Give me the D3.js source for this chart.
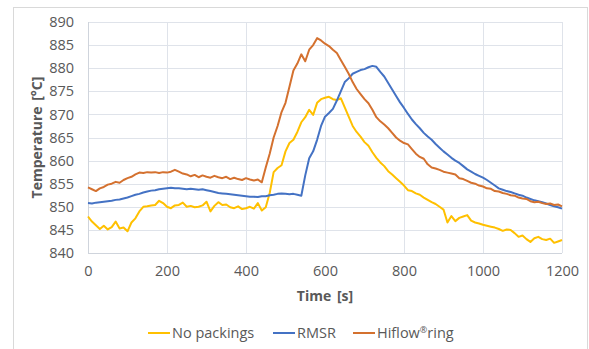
<!DOCTYPE html>
<html>
<head>
<meta charset="utf-8">
<script src="https://cdnjs.cloudflare.com/ajax/libs/d3/7.8.5/d3.min.js"></script>
<style>
  body { margin: 0; background: #fff; }
  text { font-family: "Open Sans", "Noto Sans", sans-serif; fill: #595959; }
</style>
</head>
<body>
<div id="chart"></div>
<script>
const width = 589;
const height = 349;

// time axis, 10 s steps from 0 to 1200
const times = d3.range(0, 1201, 10);

const noPackings = [
  847.9, 846.8, 846.0, 845.2, 845.9, 845.1, 845.6, 846.8, 845.3, 845.5,
  844.7, 846.6, 847.5, 849.0, 850.0, 850.1, 850.3, 850.4, 851.3, 850.8,
  850.0, 849.7, 850.3, 850.4, 850.9, 850.0, 850.2, 849.9, 850.0, 850.3,
  851.1, 849.0, 850.2, 851.0, 850.4, 850.5, 849.9, 849.7, 850.1, 849.5,
  849.7, 850.0, 849.6, 850.8, 849.2, 849.9, 853.0, 857.5, 858.4, 859.0,
  862.0, 863.8, 864.5, 866.2, 868.3, 869.4, 871.0, 869.9, 872.5, 873.3,
  873.6, 873.8, 873.3, 873.1, 873.5, 871.5, 869.5, 867.5, 866.2, 865.2,
  864.0, 863.2, 861.8, 860.6, 859.6, 858.8, 857.7, 857.0, 856.2, 855.4,
  854.6, 853.6, 853.4, 852.9, 852.6, 852.0, 851.5, 851.0, 850.6, 850.0,
  849.4, 846.6, 848.0, 846.9, 847.6, 847.9, 848.2, 847.0, 846.6, 846.4,
  846.1, 845.9, 845.7, 845.5, 845.2, 844.8, 845.1, 845.0, 844.3, 843.5,
  843.8, 843.0, 842.4, 843.2, 843.5, 843.0, 842.8, 843.1, 842.2, 842.5,
  842.8
];

const rmsr = [
  850.8, 850.7, 850.9, 851.0, 851.1, 851.2, 851.3, 851.5, 851.6, 851.8,
  852.0, 852.3, 852.6, 852.8, 853.1, 853.3, 853.5, 853.6, 853.8, 853.9,
  854.0, 854.1, 854.0, 854.0, 853.9, 853.8, 853.9, 853.8, 853.7, 853.8,
  853.6, 853.4, 853.2, 853.0, 852.9, 852.8, 852.7, 852.6, 852.5, 852.4,
  852.3, 852.2, 852.2, 852.1, 852.3, 852.3, 852.5, 852.6, 852.8, 852.9,
  852.8, 852.7, 852.8, 852.6, 852.4, 856.8, 860.5, 862.0, 864.5, 867.5,
  869.5, 870.3, 871.2, 873.0, 875.0, 877.0, 877.8, 878.8, 879.2, 879.6,
  879.8, 880.2, 880.5, 880.3, 879.2, 878.2, 876.8, 875.4, 874.0, 872.6,
  871.4, 870.1, 868.9, 867.9, 867.0, 866.0, 865.2, 864.5, 863.6, 862.8,
  862.0, 861.3, 860.6, 860.0, 859.5, 858.8, 858.1, 857.6, 857.1, 856.7,
  856.3, 855.8, 855.2, 854.6, 854.0, 853.7, 853.4, 853.2, 852.9, 852.6,
  852.4, 852.0, 851.7, 851.4, 851.2, 851.0, 850.7, 850.4, 850.1, 849.9,
  849.6
];

const hiflow = [
  854.2, 853.8, 853.4, 854.0, 854.3, 854.8, 855.0, 855.4, 855.2, 855.8,
  856.2, 856.5, 857.0, 857.4, 857.3, 857.5, 857.4, 857.5, 857.3, 857.5,
  857.4, 857.6, 858.0, 857.6, 857.2, 857.0, 856.6, 856.9, 856.4, 856.8,
  856.5, 856.3, 856.7, 856.4, 856.2, 856.5, 856.0, 856.3, 856.0, 855.8,
  856.2, 855.9, 855.7, 855.9, 855.3, 858.5, 861.5, 865.0, 867.5, 870.5,
  872.5, 876.0, 879.5, 881.0, 883.0, 881.5, 884.0, 885.0, 886.5, 886.0,
  885.3, 884.8, 884.0, 883.3, 881.8, 880.3, 878.8, 877.0, 875.5, 874.4,
  873.3, 872.4, 871.0, 869.4, 868.5, 867.8, 867.0, 866.0, 865.0, 864.3,
  863.8, 863.5, 862.5, 861.5, 860.8, 860.4, 859.2, 858.5, 858.3, 858.0,
  857.6, 857.4, 857.2, 857.0, 856.2, 856.0, 855.6, 855.2, 855.0, 854.6,
  854.4, 854.0, 853.9, 853.4, 853.3, 853.0, 852.8, 852.5, 852.4, 852.0,
  851.8, 851.7, 851.2, 851.0, 851.1, 850.8, 850.6, 850.7, 850.4, 850.5,
  850.1
];

const seriesNames = ["No packings", "RMSR", "Hiflow"];
const seriesColors = ["#FFC000", "#4472C4", "#D4712F"];
const xTicks = [0, 200, 400, 600, 800, 1000, 1200];
const yTicks = [840, 845, 850, 855, 860, 865, 870, 875, 880, 885, 890];

const margin = { top: 22, right: 27, bottom: 96, left: 88 };
const innerW = width - margin.left - margin.right;
const innerH = height - margin.top - margin.bottom;

const svg = d3.select("#chart")
    .append("svg")
    .attr("width", width)
    .attr("height", height);

// chart area border
svg.append("rect")
    .attr("x", 13.5)
    .attr("y", 7.5)
    .attr("width", 574)
    .attr("height", 350)
    .attr("fill", "none")
    .attr("stroke", "#d9d9d9");

const g = svg.append("g")
    .attr("transform", `translate(${margin.left},${margin.top})`);

const x = d3.scaleLinear().domain([0, 1200]).range([0, innerW]);
const y = d3.scaleLinear().domain([840, 890]).range([innerH, 0]);

// gridlines
g.append("g")
    .selectAll("line.h")
    .data(yTicks)
    .enter().append("line")
    .attr("x1", 0)
    .attr("x2", innerW)
    .attr("y1", d => Math.round(y(d)) + 0.5)
    .attr("y2", d => Math.round(y(d)) + 0.5)
    .attr("stroke", d => d === 840 ? "#cfd4dc" : "#dfe3ea")
    .attr("stroke-width", 1);

g.append("g")
    .selectAll("line.v")
    .data(xTicks)
    .enter().append("line")
    .attr("y1", 0)
    .attr("y2", innerH)
    .attr("x1", d => Math.round(x(d)) + 0.5)
    .attr("x2", d => Math.round(x(d)) + 0.5)
    .attr("stroke", d => d === 0 ? "#cfd4dc" : "#dfe3ea")
    .attr("stroke-width", 1);

// axes (labels only)
const yAxis = g.append("g")
    .call(d3.axisLeft(y).tickValues(yTicks).tickSize(0).tickPadding(14));
yAxis.select(".domain").remove();
yAxis.selectAll("text")
    .style("font-size", "14.5px")
    .attr("fill", "#595959");

const xAxis = g.append("g")
    .attr("transform", `translate(0,${innerH})`)
    .call(d3.axisBottom(x).tickValues(xTicks).tickFormat(d3.format("d")).tickSize(0).tickPadding(13));
xAxis.select(".domain").remove();
xAxis.selectAll("text")
    .style("font-size", "14.5px")
    .attr("fill", "#595959");

// axis titles
svg.append("text")
    .attr("x", margin.left + innerW / 2)
    .attr("y", 301)
    .attr("text-anchor", "middle")
    .style("font-size", "14px")
    .style("font-weight", "bold")
    .style("word-spacing", "2px")
    .text("Time [s]");

svg.append("text")
    .attr("transform", `translate(42,${margin.top + innerH / 2}) rotate(-90)`)
    .attr("text-anchor", "middle")
    .style("font-size", "14px")
    .style("font-weight", "bold")
    .style("word-spacing", "2px")
    .text("Temperature [\u00B0C]");

// lines
const line = d3.line()
    .x((d, i) => x(times[i]))
    .y(d => y(d));

[noPackings, rmsr, hiflow].forEach((values, i) => {
    g.append("path")
        .datum(values)
        .attr("fill", "none")
        .attr("stroke", seriesColors[i])
        .attr("stroke-width", 2)
        .attr("stroke-linejoin", "round")
        .attr("d", line);
});

// legend
const legendX = [148, 273, 353];
const legend = svg.append("g")
    .attr("transform", "translate(0,338)");

seriesNames.forEach((name, i) => {
    legend.append("line")
        .attr("x1", legendX[i])
        .attr("x2", legendX[i] + 22)
        .attr("y1", -5)
        .attr("y2", -5)
        .attr("stroke", seriesColors[i])
        .attr("stroke-width", 2);
    const t = legend.append("text")
        .attr("x", legendX[i] + 24)
        .attr("y", 0)
        .style("font-size", "14.5px")
        .text(name);
    if (i === 2) {
        t.append("tspan")
            .attr("dy", -5)
            .style("font-size", "9px")
            .text("\u00AE");
        t.append("tspan")
            .attr("dy", 5)
            .text("ring");
    }
});
</script>
</body>
</html>
